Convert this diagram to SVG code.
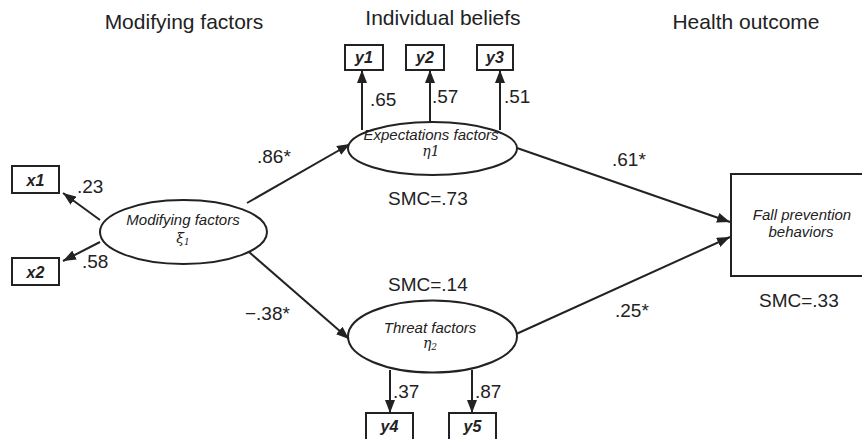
<svg xmlns="http://www.w3.org/2000/svg" width="862" height="439" viewBox="0 0 862 439">
<style>
.hdr{font-family:"Liberation Sans",Arial,sans-serif;font-size:21px;fill:#222;text-anchor:middle}
.num{font-family:"Liberation Sans",Arial,sans-serif;font-size:19px;fill:#222}
.lat{font-family:"Liberation Sans",Arial,sans-serif;font-size:15px;font-style:italic;fill:#222;text-anchor:middle}
.sym{font-family:"DejaVu Serif","Liberation Serif",serif;font-size:14px;font-style:italic;fill:#222;text-anchor:middle}
.obs{font-family:"Liberation Sans",Arial,sans-serif;font-size:16px;font-style:italic;font-weight:bold;fill:#222;text-anchor:middle}
.shape{fill:#fff;stroke:#222;stroke-width:2}
.edge{fill:none;stroke:#222;stroke-width:2;marker-end:url(#ah)}
</style>
<defs>
<marker id="ah" markerUnits="userSpaceOnUse" markerWidth="14" markerHeight="10" refX="13" refY="5" orient="auto">
<path d="M0,0 L13,5 L0,10 z" fill="#222"/>
</marker>
</defs>
<rect width="862" height="439" fill="#fff"/>
<g id="headers">
<text class="hdr" x="184" y="29">Modifying factors</text>
<text class="hdr" x="443" y="25">Individual beliefs</text>
<text class="hdr" x="746" y="29">Health outcome</text>
</g>
<g id="connectors">
<line class="edge" x1="100" y1="220" x2="63" y2="193"/>
<line class="edge" x1="100" y1="242" x2="63" y2="261"/>
<line class="edge" x1="247" y1="203" x2="350" y2="144"/>
<line class="edge" x1="249" y1="252" x2="349" y2="339"/>
<line class="edge" x1="362" y1="130" x2="362" y2="70"/>
<line class="edge" x1="430" y1="122" x2="430" y2="70"/>
<line class="edge" x1="500" y1="130" x2="500" y2="70"/>
<line class="edge" x1="390" y1="370" x2="390" y2="413"/>
<line class="edge" x1="472" y1="370" x2="472" y2="413"/>
<line class="edge" x1="517" y1="148" x2="730" y2="222"/>
<line class="edge" x1="514" y1="335" x2="730" y2="237"/>
</g>
<g id="labels">
<text class="num" x="77" y="193">.23</text>
<text class="num" x="82" y="268">.58</text>
<text class="num" x="257" y="163">.86*</text>
<text class="num" x="245" y="320">−.38*</text>
<text class="num" x="370" y="106">.65</text>
<text class="num" x="432" y="103">.57</text>
<text class="num" x="504" y="103">.51</text>
<text class="num" x="393" y="398">.37</text>
<text class="num" x="475" y="398">.87</text>
<text class="num" x="612" y="166">.61*</text>
<text class="num" x="615" y="317">.25*</text>
<text class="num" x="388" y="205">SMC=.73</text>
<text class="num" x="388" y="291">SMC=.14</text>
<text class="num" x="759" y="307">SMC=.33</text>
</g>
<g id="x1"><rect class="shape" x="12" y="166" width="47" height="27"/><text class="obs" x="35.5" y="186">x1</text></g>
<g id="x2"><rect class="shape" x="12" y="258" width="47" height="27"/><text class="obs" x="35.5" y="278">x2</text></g>
<g id="y1"><rect class="shape" x="345" y="45" width="38" height="25"/><text class="obs" x="364" y="63">y1</text></g>
<g id="y2"><rect class="shape" x="406" y="45" width="38" height="25"/><text class="obs" x="425" y="63">y2</text></g>
<g id="y3"><rect class="shape" x="477" y="45" width="36" height="25"/><text class="obs" x="495" y="63">y3</text></g>
<g id="y4"><rect class="shape" x="366" y="413" width="47" height="30"/><text class="obs" x="389.5" y="432">y4</text></g>
<g id="y5"><rect class="shape" x="449" y="413" width="47" height="30"/><text class="obs" x="472.5" y="432">y5</text></g>
<g id="modifying">
<ellipse class="shape" cx="183.5" cy="232" rx="83.5" ry="32"/>
<text class="lat" x="183" y="225">Modifying factors</text>
<text class="sym" x="183" y="243">ξ<tspan font-size="9" dy="2">1</tspan></text>
</g>
<g id="expectations">
<ellipse class="shape" cx="432.5" cy="148.5" rx="84.5" ry="26.5"/>
<text class="lat" x="431" y="140">Expectations factors</text>
<text class="sym" x="431" y="156">η1</text>
</g>
<g id="threat">
<ellipse class="shape" cx="432.5" cy="336.5" rx="84.5" ry="36"/>
<text class="lat" x="430" y="333">Threat factors</text>
<text class="sym" x="430" y="348">η<tspan font-size="9" dy="2">2</tspan></text>
</g>
<g id="fall">
<rect class="shape" x="731" y="174" width="150" height="102"/>
<text class="lat" x="802" y="220">Fall prevention</text>
<text class="lat" x="801" y="237">behaviors</text>
</g>
</svg>
